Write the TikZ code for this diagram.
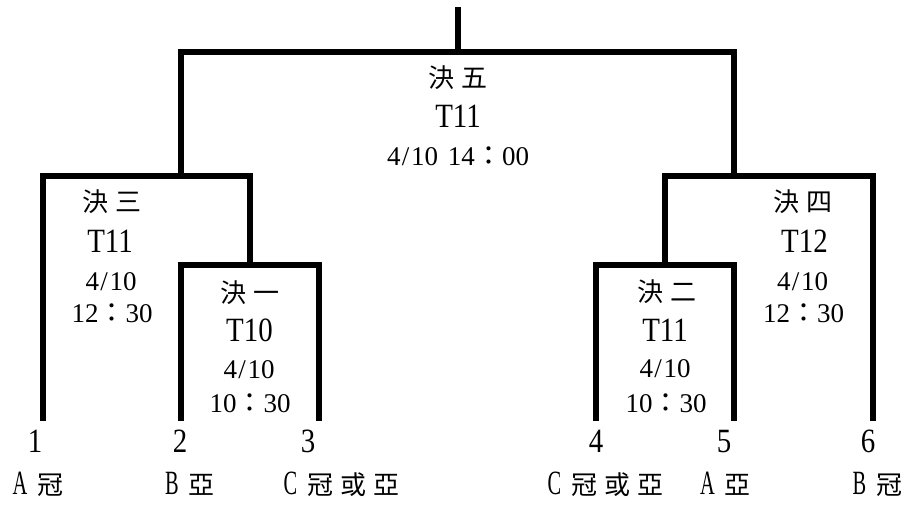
\documentclass[tikz,border=0pt]{standalone}
\usepackage{fontspec}
\setmainfont{Liberation Serif}
\newfontfamily\latbig{Liberation Serif}[FakeStretch=0.85]
\newfontfamily\latlab{Liberation Serif}[FakeStretch=0.6]
\newfontfamily\cjk{Noto Sans CJK TC}
\newcommand\zh[1]{{\cjk\fontsize{26}{26}\selectfont #1}}
\newcommand\fwc{{\cjk ：}}
\newcommand\dt{4\kern1.5pt/\kern1.5pt10}
\begin{document}
\begin{tikzpicture}[x=1pt,y=-1pt,
  bracket/.style={line width=5.7pt, line join=miter},
  title/.style={font=\cjk\fontsize{26}{26}\selectfont, inner sep=0pt},
  court/.style={font=\latbig\fontsize{34}{34}\selectfont, inner sep=0pt},
  when/.style={font=\fontsize{27}{27}\selectfont, inner sep=0pt},
  seed/.style={font=\latbig\fontsize{34}{34}\selectfont, inner sep=0pt},
  team/.style={font=\latlab\fontsize{34}{34}\selectfont, inner sep=0pt}]
\useasboundingbox (0,0) rectangle (912,507);

% leaf tops
\coordinate (p1) at (43,421);
\coordinate (p2) at (181,421);
\coordinate (p3) at (319,421);
\coordinate (p4) at (596,421);
\coordinate (p5) at (734,421);
\coordinate (p6) at (873,421);
% match corners
\coordinate (m1l) at (181,265); \coordinate (m1r) at (319,265); \coordinate (m1) at (250,265);
\coordinate (m2l) at (596,265); \coordinate (m2r) at (734,265); \coordinate (m2) at (665,265);
\coordinate (m3l) at (43,176);  \coordinate (m3r) at (250,176); \coordinate (m3) at (181,176);
\coordinate (m4l) at (665,176); \coordinate (m4r) at (873,176); \coordinate (m4) at (734,176);
\coordinate (m5l) at (181,52);  \coordinate (m5r) at (734,52);  \coordinate (m5) at (458,52);
\coordinate (top) at (458,7);

\draw[bracket] (p2) -- (m1l) -- (m1r) -- (p3);
\draw[bracket] (p4) -- (m2l) -- (m2r) -- (p5);
\draw[bracket] (p1) -- (m3l) -- (m3r) -- (m1);
\draw[bracket] (m2) -- (m4l) -- (m4r) -- (p6);
\draw[bracket] (m3) -- (m5l) -- (m5r) -- (m4);
\draw[bracket] (m5) -- (top);

% final
\node[title] (t5) at (458,78) {決\hspace{7pt}五};
\node[court] (c5) at (458,116.5) {T11};
\node[when] (w5) at (458,156) {\dt\hspace{10pt}14\fwc 00};
% semi 3
\node[title] (t3) at (112,202) {決\hspace{7pt}三};
\node[court] (c3) at (110,241) {T11};
\node[when] (d3) at (111,281.5) {\dt};
\node[when] (h3) at (112,313) {12\fwc 30};
% semi 4
\node[title] (t4) at (803,202) {決\hspace{7pt}四};
\node[court] (c4) at (804.5,241) {T12};
\node[when] (d4) at (802.5,281.5) {\dt};
\node[when] (h4) at (803.5,313) {12\fwc 30};
% match 1
\node[title] (t1) at (250,293) {決\hspace{7pt}一};
\node[court] (c1) at (249.5,330) {T10};
\node[when] (d1) at (249,370) {\dt};
\node[when] (h1) at (250,403) {10\fwc 30};
% match 2
\node[title] (t2) at (667,292) {決\hspace{7pt}二};
\node[court] (c2) at (665,330) {T11};
\node[when] (d2) at (665,369) {\dt};
\node[when] (h2) at (666,403) {10\fwc 30};

% seeds
\node[seed] (n1) at (35,441.5) {1};
\node[seed] (n2) at (180,441.5) {2};
\node[seed] (n3) at (308,441.5) {3};
\node[seed] (n4) at (596,441.5) {4};
\node[seed] (n5) at (724,441.5) {5};
\node[seed] (n6) at (868,441.5) {6};
% teams
\node[team] (e1) at (38,484) {A\hspace{10pt}\zh{冠}};
\node[team] (e2) at (190,484) {B\hspace{10pt}\zh{亞}};
\node[team] (e3) at (341.5,484) {C\hspace{10pt}\zh{冠\hspace{7pt}或\hspace{7pt}亞}};
\node[team] (e4) at (605.5,484) {C\hspace{10pt}\zh{冠\hspace{7pt}或\hspace{7pt}亞}};
\node[team] (e5) at (725.5,484) {A\hspace{10pt}\zh{亞}};
\node[team] (e6) at (877.5,484) {B\hspace{10pt}\zh{冠}};
\end{tikzpicture}
\end{document}
